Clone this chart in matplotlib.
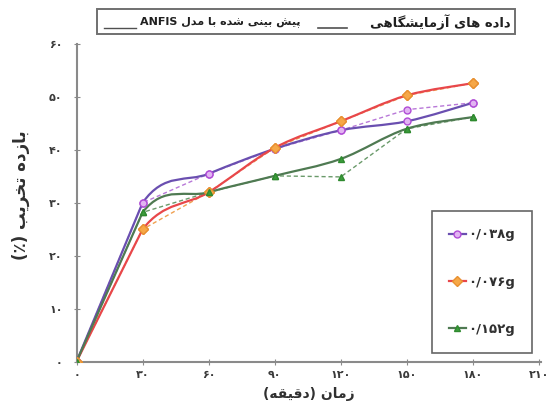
import matplotlib
matplotlib.use("Agg")
import matplotlib.pyplot as plt
from matplotlib.path import Path
from matplotlib.patches import PathPatch, Rectangle
from matplotlib.lines import Line2D

# ---------------- data ----------------
time_min = [0, 30, 60, 90, 120, 150, 180]
exp_038 = [0, 30.0, 35.5, 40.2, 43.7, 45.4, 48.9]
anfis_038 = [0, 30.0, 35.5, 40.2, 43.7, 47.6, 48.9]
exp_076 = [0, 25.0, 32.0, 40.4, 45.4, 50.3, 52.6]
anfis_076 = [0, 25.0, 32.0, 40.4, 45.4, 50.3, 52.6]
exp_152 = [0, 28.2, 32.0, 35.1, 38.3, 44.0, 46.2]
anfis_152 = [0, 28.2, 32.0, 35.1, 34.9, 44.0, 46.2]

x_ticks = [0, 30, 60, 90, 120, 150, 180, 210]
x_tick_labels = ["۰", "۳۰", "۶۰", "۹۰", "۱۲۰", "۱۵۰", "۱۸۰", "۲۱۰"]
y_ticks = [0, 10, 20, 30, 40, 50, 60]
y_tick_labels = ["۰", "۱۰", "۲۰", "۳۰", "۴۰", "۵۰", "۶۰"]
series_labels = ["۰/۰۳۸g", "۰/۰۷۶g", "۰/۱۵۲g"]
x_title = "زمان (دقیقه)"
y_title = "بازده تخریب (٪)"
legend_exp = "داده های آزمایشگاهی"
legend_anfis = "پیش بینی شده با مدل ANFIS"

# ------------- simple Arabic/Persian shaping for display -------------
FORMS = {
    "\u0627": ("\uFE8D", "\uFE8E", None, None),
    "\u0622": ("\uFE81", "\uFE82", None, None),
    "\u0628": ("\uFE8F", "\uFE90", "\uFE91", "\uFE92"),
    "\u067E": ("\uFB56", "\uFB57", "\uFB58", "\uFB59"),
    "\u062A": ("\uFE95", "\uFE96", "\uFE97", "\uFE98"),
    "\u062E": ("\uFEA5", "\uFEA6", "\uFEA7", "\uFEA8"),
    "\u062F": ("\uFEA9", "\uFEAA", None, None),
    "\u0631": ("\uFEAD", "\uFEAE", None, None),
    "\u0632": ("\uFEAF", "\uFEB0", None, None),
    "\u0634": ("\uFEB5", "\uFEB6", "\uFEB7", "\uFEB8"),
    "\u0642": ("\uFED5", "\uFED6", "\uFED7", "\uFED8"),
    "\u06AF": ("\uFB92", "\uFB93", "\uFB94", "\uFB95"),
    "\u0644": ("\uFEDD", "\uFEDE", "\uFEDF", "\uFEE0"),
    "\u0645": ("\uFEE1", "\uFEE2", "\uFEE3", "\uFEE4"),
    "\u0646": ("\uFEE5", "\uFEE6", "\uFEE7", "\uFEE8"),
    "\u0647": ("\uFEE9", "\uFEEA", "\uFEEB", "\uFEEC"),
    "\u06CC": ("\uFBFC", "\uFBFD", "\uFBFE", "\uFBFF"),
}


def shape(text):
    out = []
    n = len(text)
    for i, c in enumerate(text):
        if c not in FORMS:
            out.append(c)
            continue
        prev = text[i - 1] if i > 0 else ""
        nxt = text[i + 1] if i + 1 < n else ""
        cp = prev in FORMS and FORMS[prev][2] is not None
        cn = nxt in FORMS and FORMS[c][2] is not None
        iso, fin, ini, med = FORMS[c]
        if cp and cn:
            out.append(med)
        elif cp:
            out.append(fin)
        elif cn:
            out.append(ini)
        else:
            out.append(iso)
    return "".join(out)


def is_ltr(c):
    return c.isascii() and c.isalnum() or ("\u06F0" <= c <= "\u06F9")


MIRROR = {"(": ")", ")": "("}


def visual(text):
    s = shape(text)
    runs = []
    for c in s:
        kind = is_ltr(c)
        if runs and runs[-1][0] == kind:
            runs[-1][1].append(c)
        else:
            runs.append([kind, [c]])
    parts = []
    for kind, chars in reversed(runs):
        if kind:
            parts.append("".join(chars))
        else:
            parts.append("".join(MIRROR.get(c, c) for c in reversed(chars)))
    return "".join(parts)


def smooth_path(xs, ys):
    """Smoothed polyline (Catmull-Rom Bezier); first segment kept straight."""
    pts = list(zip(xs, ys))
    n = len(pts)
    verts = [pts[0]]
    codes = [Path.MOVETO]
    for i in range(n - 1):
        p1 = pts[i]
        p2 = pts[i + 1]
        if i == 0:
            verts.append(p2)
            codes.append(Path.LINETO)
            continue
        p0 = pts[i - 1]
        p3 = pts[i + 2] if i + 2 < n else pts[i + 1]
        c1 = (p1[0] + (p2[0] - p0[0]) / 6.0, p1[1] + (p2[1] - p0[1]) / 6.0)
        c2 = (p2[0] - (p3[0] - p1[0]) / 6.0, p2[1] - (p3[1] - p1[1]) / 6.0)
        verts += [c1, c2, p2]
        codes += [Path.CURVE4] * 3
    return Path(verts, codes)


plt.rcParams["font.family"] = ["DejaVu Sans"]

W, H = 556, 412
fig = plt.figure(figsize=(W / 100, H / 100), dpi=100)
x0, x1 = 76.5, 541.2
ytop, ybot = 44.0, 361.7
ax = fig.add_axes([x0 / W, 1 - ybot / H, (x1 - x0) / W, (ybot - ytop) / H])

styles = [
    (exp_038, anfis_038, "#6a4fb0", "#b878d8", "o", "#e2b4f2", "#b04cd6"),
    (exp_076, anfis_076, "#e8474a", "#f0a050", "D", "#f6a848", "#e89030"),
    (exp_152, anfis_152, "#4f7a52", "#6a9a6a", "^", "#3c9c3c", "#2f8a2f"),
]

handles = []
for exp, anf, lc, dc, mk, mfc, mec in styles:
    ax.plot(time_min, anf, ls=(0, (3, 2)), lw=1.0, color=dc, marker=mk,
            ms=5, mfc=mfc, mec=mec, mew=1.0, zorder=3)
    patch = PathPatch(smooth_path(time_min, exp), fill=False, edgecolor=lc,
                      lw=1.6, transform=ax.transData, zorder=4)
    ax.add_patch(patch)
    ax.plot(time_min, exp, ls="none", marker=mk, ms=5, mfc=mfc, mec=mec,
            mew=1.0, zorder=5)
    handles.append(Line2D([], [], color=lc, lw=1.6, marker=mk, ms=5,
                          mfc=mfc, mec=mec))

ax.set_xlim(0, 211)
ax.set_ylim(0, 60)
ax.set_xticks(x_ticks, x_tick_labels)
ax.set_yticks(y_ticks, y_tick_labels)
for s in ["top", "right"]:
    ax.spines[s].set_visible(False)
for s in ["left", "bottom"]:
    ax.spines[s].set_color("#8a8a8a")
    ax.spines[s].set_linewidth(1.5)
ax.tick_params(axis="both", direction="inout", length=4, width=0.8,
               color="#8a8a8a", labelsize=8, labelcolor="#3a3a3a")
ax.tick_params(axis="x", pad=4)
ax.tick_params(axis="y", pad=8)
for lab in ax.get_xticklabels() + ax.get_yticklabels():
    lab.set_fontweight("bold")

ax.set_xlabel(visual(x_title), fontsize=10, fontweight="bold", color="#303030")
ax.xaxis.set_label_coords(0.5, -0.08)
ax.set_ylabel(visual(y_title), fontsize=12, fontweight="bold", color="#303030")
ax.yaxis.set_label_coords(-0.1, 0.525)

leg = ax.legend(handles, series_labels, loc="lower right",
                bbox_to_anchor=(532 / W, 1 - 353 / H),
                bbox_transform=fig.transFigure, fontsize=9.5,
                labelspacing=2.6, borderpad=1.3, handlelength=1.3,
                handletextpad=0.15, borderaxespad=0, frameon=True,
                fancybox=False)
leg.get_frame().set_edgecolor("#404040")
leg.get_frame().set_linewidth(1.2)
for t in leg.get_texts():
    t.set_color("#303030")
    t.set_fontweight("bold")

# top legend (drawn right-to-left)
fig.patches.append(Rectangle((97 / W, 1 - 34 / H), (515 - 97) / W, 25 / H,
                             transform=fig.transFigure, fill=True,
                             facecolor="white", edgecolor="#707070", lw=1.4))
fig.text(511 / W, 1 - 22 / H, visual(legend_exp), ha="right", va="center",
         fontsize=9.5, fontweight="bold", color="#202020")
fig.lines.append(Line2D([318 / W, 347 / W], [1 - 28 / H, 1 - 28 / H],
                        transform=fig.transFigure, color="#505050", lw=1.2))
fig.text(301 / W, 1 - 22 / H, visual(legend_anfis), ha="right", va="center",
         fontsize=8, fontweight="bold", color="#202020")
fig.lines.append(Line2D([104 / W, 136 / W], [1 - 28 / H, 1 - 28 / H],
                        transform=fig.transFigure, color="#505050", lw=1.0))

fig.savefig("out.png", dpi=100)
